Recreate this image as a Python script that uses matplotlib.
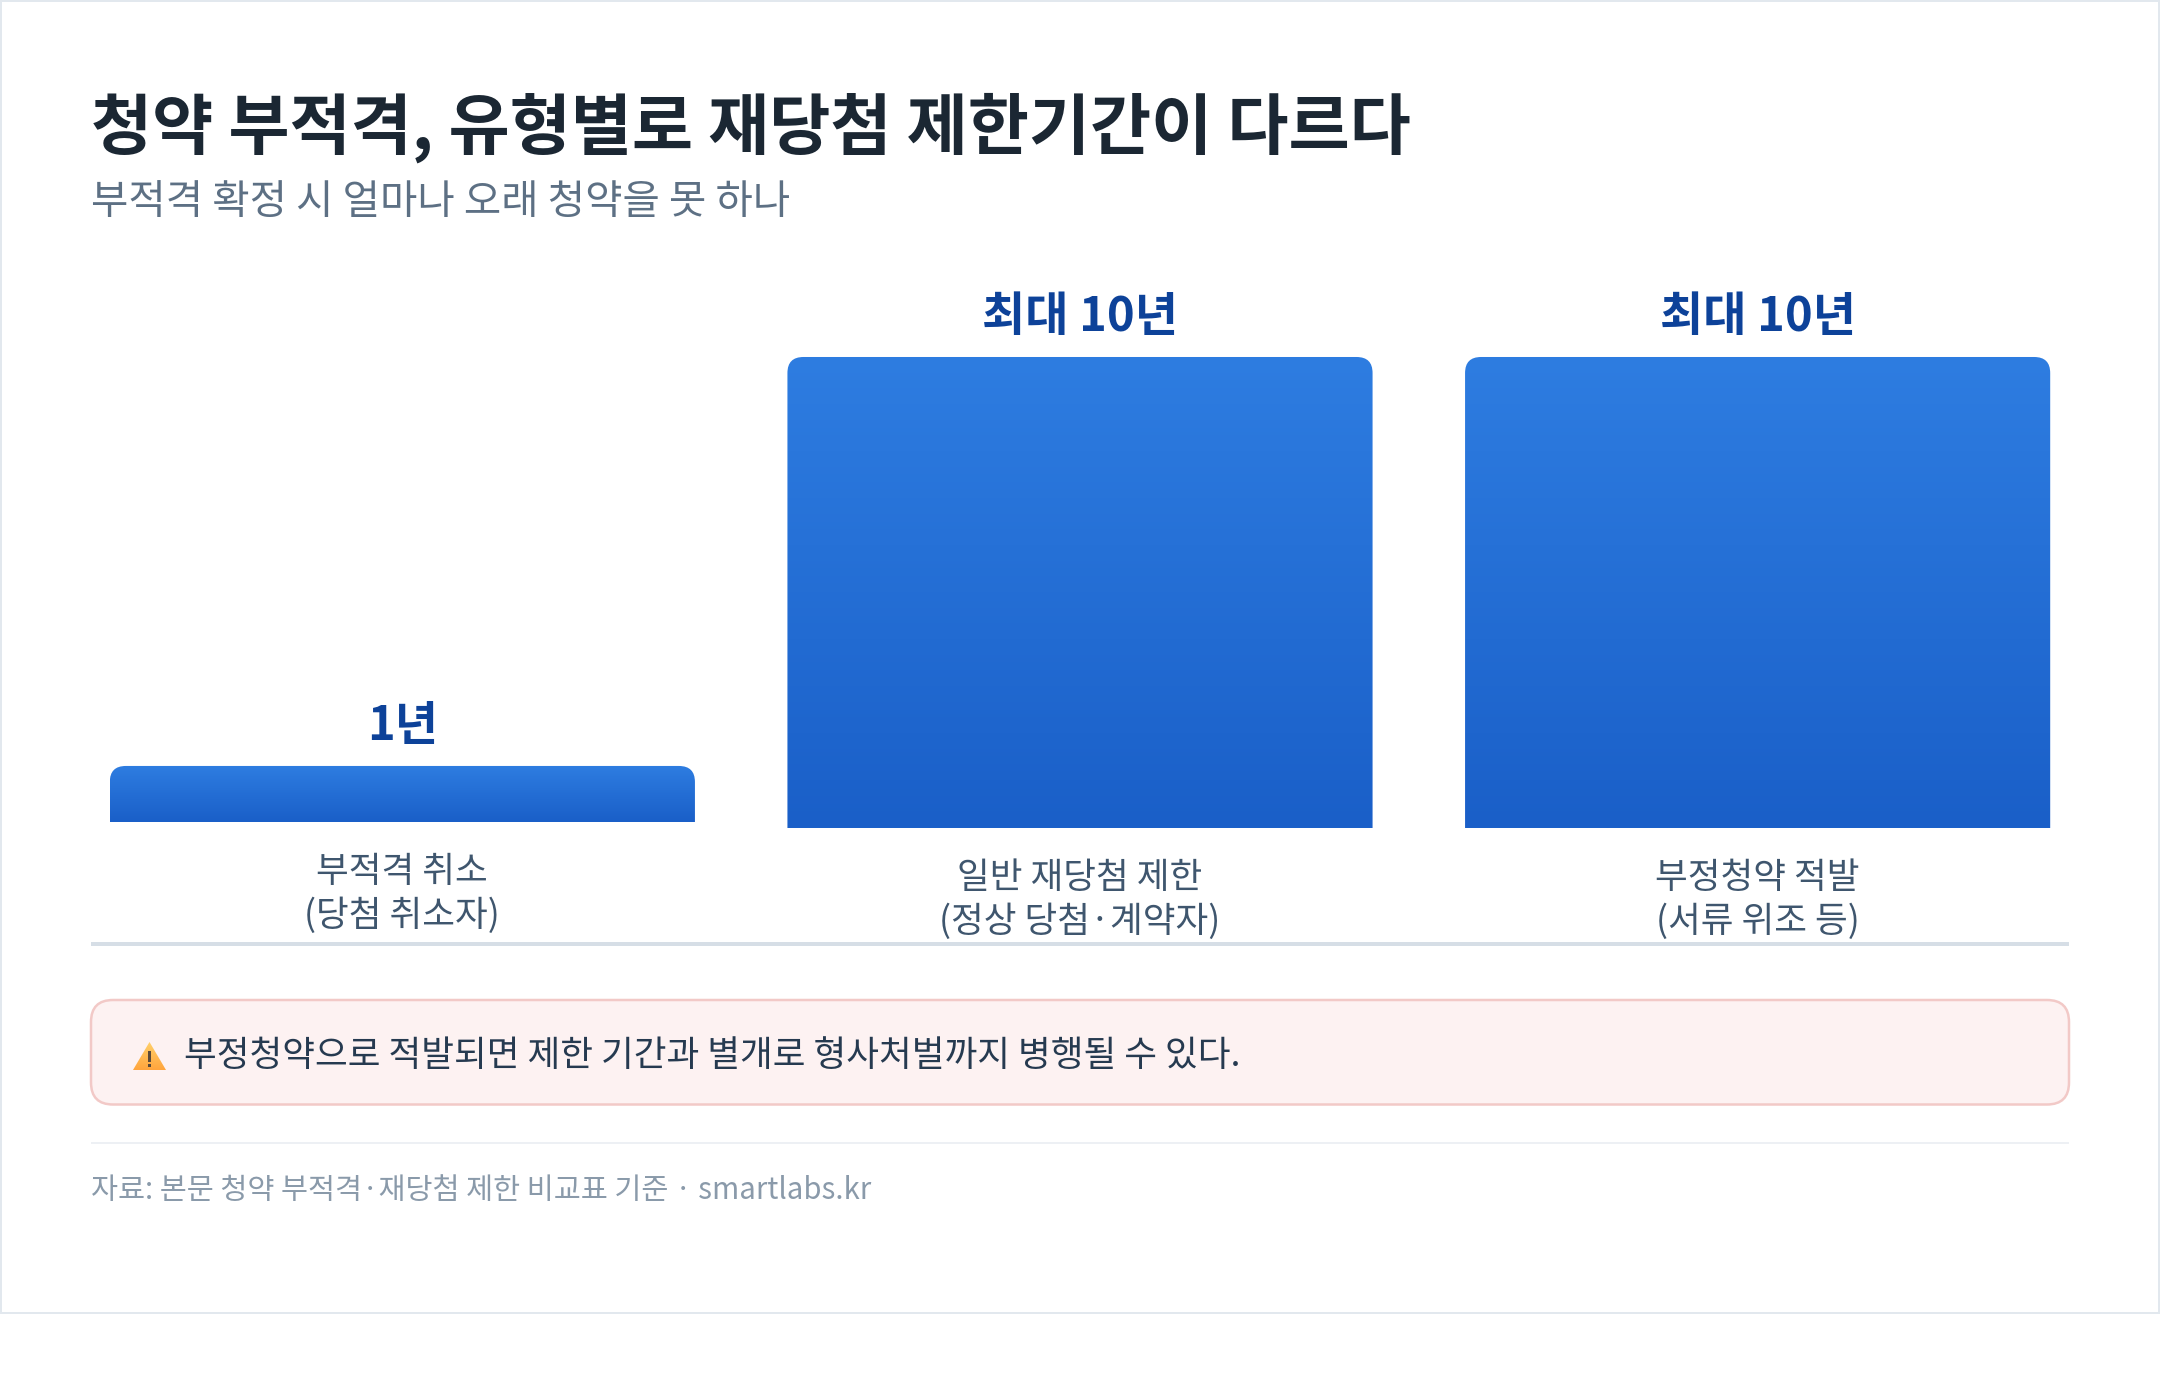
import numpy as np
import matplotlib
matplotlib.use("Agg")
import matplotlib.pyplot as plt
from matplotlib.patches import FancyBboxPatch, Polygon, PathPatch, Rectangle
from matplotlib.path import Path
from matplotlib.colors import LinearSegmentedColormap

plt.rcParams["font.family"] = ["Noto Sans CJK KR", "DejaVu Sans"]

categories = ["부적격 취소\n(당첨 취소자)", "일반 재당첨 제한\n(정상 당첨·계약자)", "부정청약 적발\n(서류 위조 등)"]
# drawn heights as they appear in the picture (the 1-year bar is drawn a bit taller than to scale)
drawn_years = [1.19, 10, 10]
value_labels = ["1년", "최대 10년", "최대 10년"]

title = "청약 부적격, 유형별로 재당첨 제한기간이 다르다"
subtitle = "부적격 확정 시 얼마나 오래 청약을 못 하나"
note = "부정청약으로 적발되면 제한 기간과 별개로 형사처벌까지 병행될 수 있다."
source = "자료: 본문 청약 부적격·재당첨 제한 비교표 기준 · smartlabs.kr"

W, H = 2160, 1400
PX = 0.72  # px to pt at dpi 100

fig = plt.figure(figsize=(W / 100, H / 100), dpi=100, facecolor="white")

# page layer in pixel coordinates
bg = fig.add_axes([0, 0, 1, 1], zorder=0)
bg.set_xlim(0, W)
bg.set_ylim(H, 0)
bg.axis("off")
bg.add_patch(Rectangle((1, 1), W - 2, 1312, fc="white", ec="#E2E8EE", lw=2 * PX))

bg.text(91, 149, title, fontsize=66.5 * PX, fontweight="bold", color="#1B2733", va="baseline")
bg.text(91, 214, subtitle, fontsize=40.6 * PX, color="#5D7084", va="baseline")

# note box
bg.add_patch(FancyBboxPatch((91, 1000), 1978, 104.5, boxstyle="round,pad=0,rounding_size=22",
                            fc="#FDF2F2", ec="#F2C9C7", lw=2.5 * PX))
tri = Polygon([(149.5, 1042), (133, 1070), (166, 1070)], closed=True, fc="none", ec="none")
bg.add_patch(tri)
warn = LinearSegmentedColormap.from_list("warn", ["#FFD06A", "#FFA53D"])
im = bg.imshow(np.linspace(0, 1, 64).reshape(-1, 1), cmap=warn, extent=(133, 166, 1070, 1042), aspect="auto", zorder=2)
im.set_clip_path(tri)
bg.set_xlim(0, W)
bg.set_ylim(H, 0)
bg.add_patch(Rectangle((148.2, 1051), 2.6, 11, fc="#5A4A3A", ec="none", zorder=3))
bg.add_patch(Rectangle((148.2, 1064), 2.6, 3, fc="#5A4A3A", ec="none", zorder=3))
bg.text(184, 1066, note, fontsize=35.6 * PX, color="#263A50", va="baseline")

bg.plot([91, 2069], [1142.5, 1142.5], color="#EDF0F4", lw=2 * PX, solid_capstyle="butt")
bg.text(91, 1199, source, fontsize=29.4 * PX, color="#8A9AAA", va="baseline")

# chart axes, 90..2070 px wide, baseline rule at y=944 px
ax = fig.add_axes([91 / W, 1 - 944 / H, 1978 / W, (944 - 300) / H], zorder=1)
ax.patch.set_alpha(0)
xlim = (-0.4595, 2.4595)
ylim = (-2.463, 11.21)
x = np.arange(len(categories))
bottoms = [0.127, 0, 0]
bars = ax.bar(x, drawn_years, width=0.8635, bottom=bottoms, color="#2469D5")
ax.set_xlim(xlim)
ax.set_ylim(ylim)
for s in ["top", "left", "right"]:
    ax.spines[s].set_visible(False)
ax.spines["bottom"].set_color("#D6DEE6")
ax.spines["bottom"].set_linewidth(4 * PX)
ax.spines["bottom"].set_capstyle("butt")
ax.set_xticks([])
ax.set_yticks([])

grad = LinearSegmentedColormap.from_list("bar", ["#2E7DE1", "#1A5FC8"])
rx = 16 * (xlim[1] - xlim[0]) / 1978
ry = 16 * (ylim[1] - ylim[0]) / 644
for bar, lab, val in zip(bars, value_labels, categories):
    x0, x1 = bar.get_x(), bar.get_x() + bar.get_width()
    y0, y1 = bar.get_y(), bar.get_y() + bar.get_height()
    verts = [(x0, y0), (x0, y1 - ry), (x0, y1), (x0 + rx, y1), (x1 - rx, y1), (x1, y1), (x1, y1 - ry), (x1, y0), (x0, y0)]
    codes = [Path.MOVETO, Path.LINETO, Path.CURVE3, Path.CURVE3, Path.LINETO, Path.CURVE3, Path.CURVE3, Path.LINETO, Path.CLOSEPOLY]
    clip = PathPatch(Path(verts, codes), fc="none", ec="none")
    ax.add_patch(clip)
    im = ax.imshow(np.linspace(0, 1, 256).reshape(-1, 1), cmap=grad, extent=(x0, x1, y0, y1), origin="upper", aspect="auto", zorder=3)
    im.set_clip_path(clip)
    bar.set_visible(False)
    cx = (x0 + x1) / 2
    ax.annotate(lab, (cx, y1), xytext=(0, 26 * PX), textcoords="offset points", ha="center", va="baseline",
                fontsize=47 * PX, fontweight="bold", color="#0D4299")
    ax.annotate(val, (cx, y0), xytext=(0, -72 * PX), textcoords="offset points", ha="center", va="center",
                fontsize=35.6 * PX, color="#3F566E", linespacing=1.29, multialignment="center")
ax.set_xlim(xlim)
ax.set_ylim(ylim)

fig.savefig("out.png", dpi=100, facecolor="white")
